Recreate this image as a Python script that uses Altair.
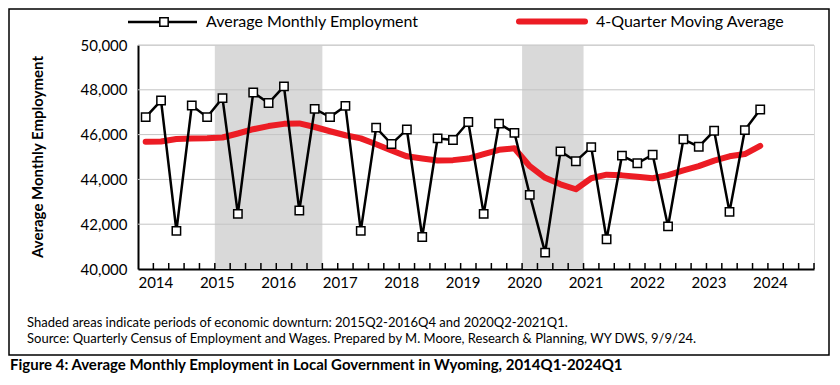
import altair as alt
import pandas as pd

quarters = [f"{y}Q{q}" for y in range(2014, 2025) for q in range(1, 5)][:41]
employment = [46780, 47520, 41700, 47300, 46780, 47630, 42460, 47880, 47410, 48150,
              42610, 47150, 46780, 47280, 41700, 46310, 45580, 46230, 41430, 45830,
              45760, 46560, 42460, 46490, 46080, 43310, 40730, 45250, 44810, 45440,
              41330, 45060, 44720, 45100, 41900, 45790, 45460, 46170, 42550, 46200,
              47120]
moving_avg = [45680, 45690, 45800, 45830, 45840, 45870, 46050, 46240, 46380, 46480,
              46500, 46340, 46150, 45970, 45830, 45570, 45290, 45030, 44930, 44840,
              44860, 44930, 45130, 45320, 45390, 44590, 44070, 43780, 43560, 44050,
              44210, 44180, 44120, 44050, 44190, 44400, 44590, 44840, 45030, 45130,
              45500]
year_labels = [str(y) for y in range(2014, 2025)]
downturn_start = ["2015Q2", "2020Q2"]
downturn_end = ["2016Q4", "2021Q1"]
y_ticks = [40000, 42000, 44000, 46000, 48000, 50000]

N_SLOTS = 44  # 2014Q1 .. 2024Q4
W, H = 676, 224
FONT = "Lato"

df = pd.DataFrame({"q": quarters, "emp": employment, "ma": moving_avg})
df["pos"] = [i + 0.5 for i in range(len(quarters))]

shade = pd.DataFrame({
    "s": [quarters.index(s) for s in downturn_start],
    "e": [quarters.index(e) + 1 for e in downturn_end],
})
ticks_df = pd.DataFrame({"b": list(range(1, N_SLOTS + 1)), "y": [y_ticks[0]] * N_SLOTS})
grid_df = pd.DataFrame({"g": y_ticks[1:]})

xscale = alt.Scale(domain=[0, N_SLOTS], nice=False, zero=False)
yscale = alt.Scale(domain=[y_ticks[0], y_ticks[-1]], nice=False, zero=False)

label_arr = "[" + ",".join(f"'{y}'" for y in year_labels) + "]"

X_AX = alt.Axis(values=[1 + 4 * k for k in range(len(year_labels))],
                labelExpr=f"{label_arr}[(datum.value - 1) / 4]",
                ticks=False, grid=False, domainColor="black", domainWidth=2,
                labelFont=FONT, labelFontSize=15, labelColor="black",
                labelPadding=6, labelOffset=2, title=None)
Y_AX = alt.Axis(values=y_ticks, labelExpr="format(datum.value, ',.0f')",
                ticks=False, grid=False,
                domainColor="black", domainWidth=2, labelFont=FONT,
                labelFontSize=15, labelColor="black", labelPadding=11,
                title=None)


def X(f):
    return alt.X(f, type="quantitative", scale=xscale, axis=X_AX)


def Y(f):
    return alt.Y(f, type="quantitative", scale=yscale, axis=Y_AX)


shading = alt.Chart(shade).mark_rect(color="#D9D9D9").encode(
    x=X("s"), x2="e", y=alt.value(0), y2=alt.value(H),
)

grid = alt.Chart(grid_df).mark_rule(color="#C4C4C4", strokeWidth=1).encode(
    y=Y("g"), x=alt.value(0), x2=alt.value(W),
)

tick_marks = alt.Chart(ticks_df).mark_rule(color="black", strokeWidth=1.5).encode(
    x=X("b"), y=Y("y"), y2=alt.value(H - 6),
)

ma_line = alt.Chart(df).mark_line(color="#EC1C24", strokeWidth=6, strokeCap="round",
                                  strokeJoin="round").encode(
    x=X("pos"), y=Y("ma"),
)

emp_line = alt.Chart(df).mark_line(color="black", strokeWidth=2.5).encode(
    x=X("pos"), y=Y("emp"),
)

emp_pts = alt.Chart(df).mark_point(shape="square", filled=True, fill="white",
                                   stroke="black", strokeWidth=1.5, size=70,
                                   opacity=1).encode(
    x=X("pos"), y=Y("emp"),
)

# legend
leg_df = pd.DataFrame({"k": [0]})
leg1_line = alt.Chart(leg_df).mark_rule(color="black", strokeWidth=2.5).encode(
    x=alt.value(-10), x2=alt.value(59), y=alt.value(-23))
leg1_pt = alt.Chart(leg_df).mark_point(shape="square", filled=True, fill="white",
                                       stroke="black", strokeWidth=1.5, size=70,
                                       opacity=1).encode(
    x=alt.value(26), y=alt.value(-23))
leg1_txt = alt.Chart(leg_df).mark_text(text="Average Monthly Employment", align="left",
                                       baseline="middle", font=FONT, fontSize=16,
                                       color="black").encode(
    x=alt.value(68), y=alt.value(-23))
leg2_line = alt.Chart(leg_df).mark_rule(color="#EC1C24", strokeWidth=6,
                                        strokeCap="round").encode(
    x=alt.value(381), x2=alt.value(447), y=alt.value(-23.5))
leg2_txt = alt.Chart(leg_df).mark_text(text="4-Quarter Moving Average", align="left",
                                       baseline="middle", font=FONT, fontSize=16,
                                       color="black").encode(
    x=alt.value(458), y=alt.value(-23))

ytitle = alt.Chart(leg_df).mark_text(text="Average Monthly Employment", angle=270,
                                     align="center", baseline="middle", font=FONT,
                                     fontSize=15, fontWeight="bold",
                                     color="black").encode(
    x=alt.value(-100), y=alt.value(112))

note1 = alt.Chart(leg_df).mark_text(
    text="Shaded areas indicate periods of economic downturn: 2015Q2-2016Q4 and 2020Q2-2021Q1.",
    align="left", baseline="middle", font=FONT, fontSize=13, color="black").encode(
    x=alt.value(-111), y=alt.value(278))
note2 = alt.Chart(leg_df).mark_text(
    text="Source: Quarterly Census of Employment and Wages. Prepared by M. Moore, Research & Planning, WY DWS, 9/9/24.",
    align="left", baseline="middle", font=FONT, fontSize=13, color="black").encode(
    x=alt.value(-111), y=alt.value(294))
fig_title = alt.Chart(leg_df).mark_text(
    text="Figure 4: Average Monthly Employment in Local Government in Wyoming, 2014Q1-2024Q1",
    align="left", baseline="middle", font=FONT, fontSize=15, fontWeight="bold",
    color="black").encode(
    x=alt.value(-128), y=alt.value(320))

border = alt.Chart(leg_df).mark_rect(fill=None, filled=False, stroke="black",
                                     strokeWidth=1.5).encode(
    x=alt.value(-129), x2=alt.value(691), y=alt.value(-36), y2=alt.value(310))

chart = alt.layer(
    shading, grid, tick_marks, ma_line, emp_line, emp_pts,
    leg1_line, leg1_pt, leg1_txt, leg2_line, leg2_txt, ytitle,
    note1, note2, fig_title, border,
).properties(
    width=W, height=H,
    autosize=alt.AutoSizeParams(type="none"),
    padding={"left": 130, "top": 37, "right": 18, "bottom": 108},
).configure_view(stroke=None).configure(background="white")

chart.save("out.html", embed_options={"renderer": "svg", "actions": False})
